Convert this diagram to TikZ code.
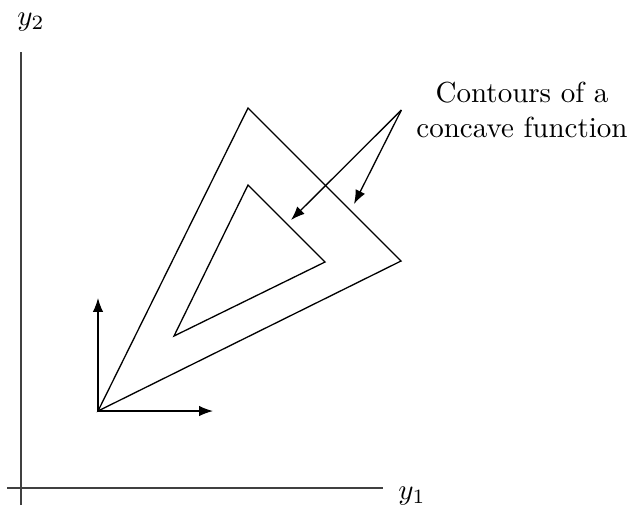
\documentclass[tikz,border=0pt]{standalone}
\usepackage{tikz}
\usetikzlibrary{arrows.meta,positioning}
\tikzset{
  axis/.style   ={line width=0.5pt,draw=black!75},
  contour/.style={line width=0.45pt,draw=black,line join=miter},
  flow/.style   ={-{Latex[length=4.8pt,width=3.6pt]},line width=0.45pt,draw=black},
  lab/.style    ={inner sep=2pt,align=center}
}
\begin{document}
\begin{tikzpicture}[x=0.1212cm,y=-0.1212cm]
  \useasboundingbox (0,0) rectangle (63,51);
  % axes
  \coordinate (ytop) at (2.1,5.2);
  \coordinate (ybot) at (2.1,50.5);
  \coordinate (xl) at (0.7,48.8);
  \coordinate (xr) at (38.3,48.8);
  \draw[axis] (ybot) -- (ytop);
  \draw[axis] (xl) -- (xr);
  \node[lab] (ylab) at (3.1,2.2) {$y_2$};
  \node[lab] (xlab) at (41.2,49.6) {$y_1$};
  % origin and directions
  \coordinate (o) at (9.8,41.1);
  \coordinate (up) at (9.8,29.8);
  \coordinate (rt) at (21.3,41.1);
  \draw[flow] (o) -- (up);
  \draw[flow] (o) -- (rt);
  % contours
  \coordinate (a1) at (24.8,10.8);
  \coordinate (b1) at (40.1,26.1);
  \coordinate (a2) at (24.8,18.5);
  \coordinate (b2) at (32.5,26.2);
  \coordinate (c2) at (17.4,33.6);
  \draw[contour] (o) -- (a1) -- (b1) -- cycle;
  \draw[contour] (c2) -- (a2) -- (b2) -- cycle;
  % label
  \node[lab,inner sep=5pt] (lbl) at (52.2,11.0) {Contours of a\\concave function};
  \coordinate (t1) at (29.1,22.0);
  \coordinate (t2) at (35.4,20.4);
  \draw[flow] (lbl.west) -- (t1);
  \draw[flow] (lbl.west) -- (t2);
\end{tikzpicture}
\end{document}
